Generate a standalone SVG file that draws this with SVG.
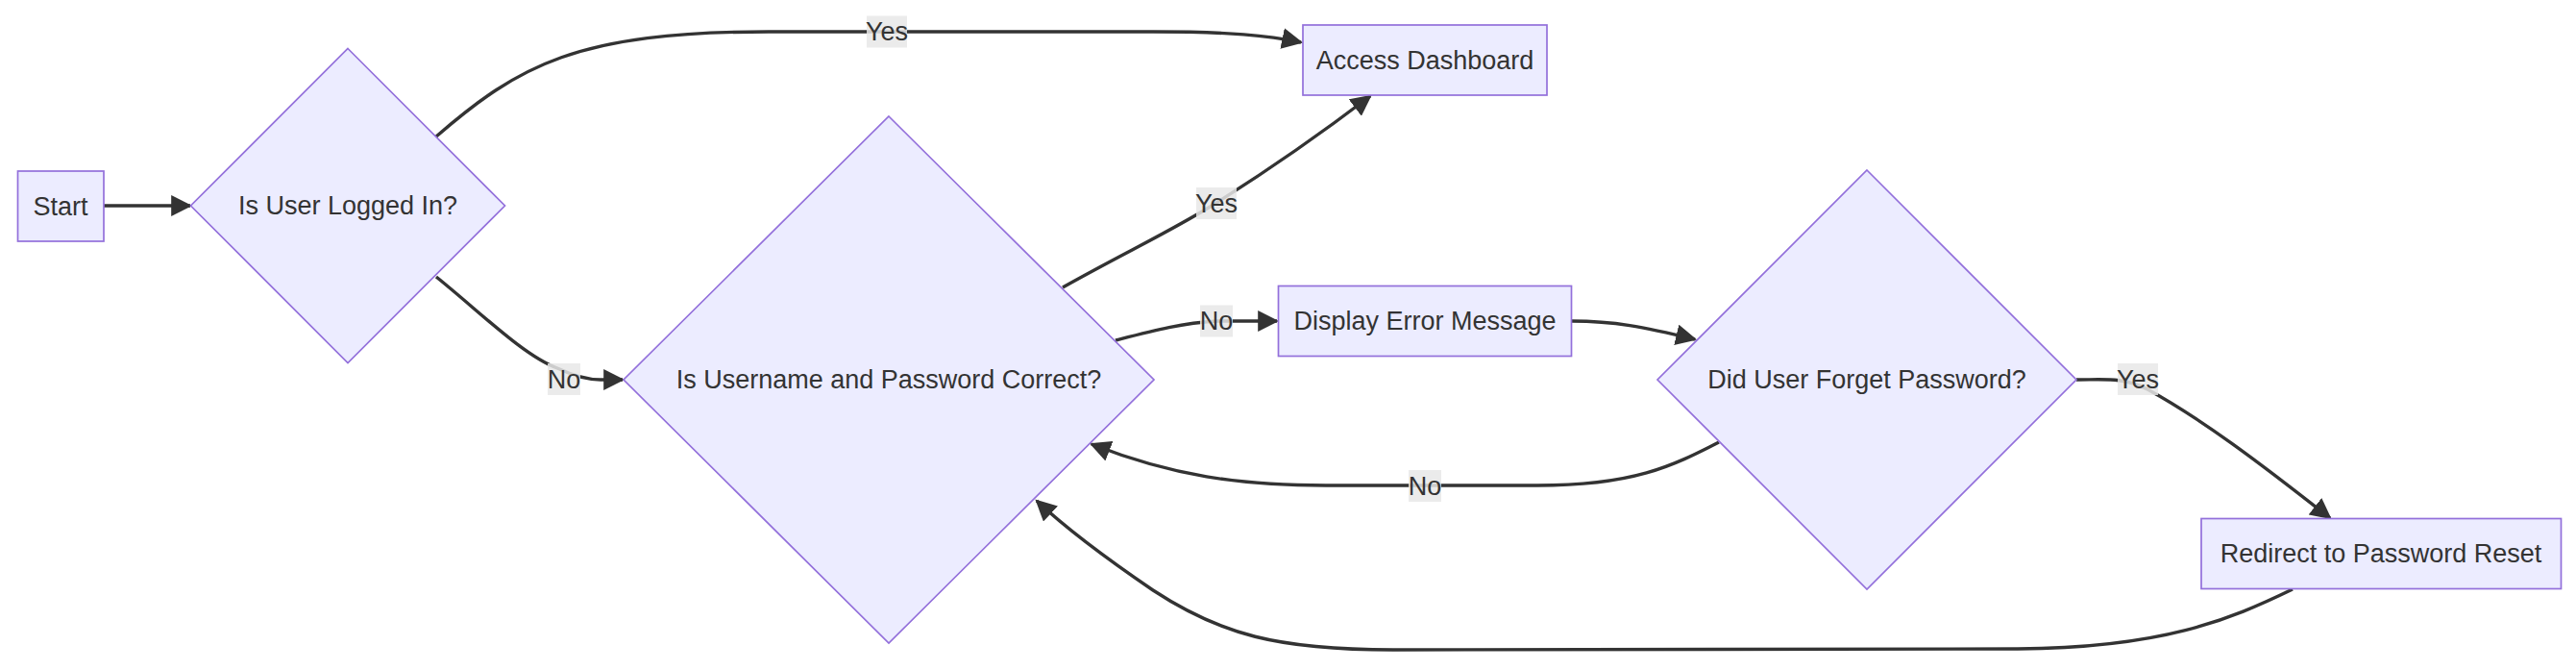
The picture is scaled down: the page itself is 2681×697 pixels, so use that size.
<svg xmlns="http://www.w3.org/2000/svg" width="2681" height="697" viewBox="0 0 2681 697">
<style>
.node{fill:#ECECFF;stroke:#9370DB;stroke-width:1.7}
.lbl{font-family:"Liberation Sans",Arial,sans-serif;font-size:27px;fill:#333333;text-anchor:middle;dominant-baseline:central}
.edge{fill:none;stroke:#333333;stroke-width:3.4}
.ebg{fill:#e8e8e8;opacity:0.85}
</style>
<defs>
<marker id="arr" markerUnits="userSpaceOnUse" markerWidth="22" markerHeight="22" viewBox="0 0 10 10" refX="9" refY="5" orient="auto">
<path d="M0,0 L10,5 L0,10 z" fill="#333333"/>
</marker>
</defs>
<rect width="2681" height="697" fill="#ffffff"/>
<g id="connectors">
<path class="edge" marker-end="url(#arr)" d="M108,214 L198,214"/>
<path class="edge" marker-end="url(#arr)" d="M454,142 C540,68 600,33 800,33 L1200,33 C1280,33 1320,37 1354,44"/>
<path class="edge" marker-end="url(#arr)" d="M454,288 C500,325 545,370 580,383 C595,390 610,395 625,395 L648,395"/>
<path class="edge" marker-end="url(#arr)" d="M1106,299 C1170,263 1220,240 1266,211 C1320,177 1380,135 1426,100"/>
<path class="edge" marker-end="url(#arr)" d="M1161,354 C1200,344 1230,336 1266,334 L1329,334"/>
<path class="edge" marker-end="url(#arr)" d="M1636,334 C1680,334 1710,340 1764,353"/>
<path class="edge" marker-end="url(#arr)" d="M1789,460 C1740,485 1700,505 1600,505 L1380,505 C1290,505 1220,495 1136,462"/>
<path class="edge" marker-end="url(#arr)" d="M2161,395 C2190,395 2210,392 2235,405 C2290,435 2350,480 2425,539"/>
<path class="edge" marker-end="url(#arr)" d="M2386,613 C2320,645 2250,674 2100,675 L1450,676 C1330,676 1270,660 1200,614 C1150,580 1110,550 1079,521"/>
<g id="edge-labels">
<rect class="ebg" x="902" y="16.5" width="42" height="33"/><text class="lbl" x="923" y="33">Yes</text>
<rect class="ebg" x="570" y="378" width="34" height="33"/><text class="lbl" x="587" y="394.5">No</text>
<rect class="ebg" x="1245" y="195" width="42" height="33"/><text class="lbl" x="1266" y="211.5">Yes</text>
<rect class="ebg" x="1249" y="317.5" width="34" height="33"/><text class="lbl" x="1266" y="334">No</text>
<rect class="ebg" x="1466" y="489" width="34" height="33"/><text class="lbl" x="1483" y="505.5">No</text>
<rect class="ebg" x="2204" y="378" width="42" height="33"/><text class="lbl" x="2225" y="394.5">Yes</text>
</g>
</g>
<g id="start"><rect class="node" x="18.5" y="178" width="89.5" height="73"/><text class="lbl" x="63" y="214.5">Start</text></g>
<g id="logged-in"><polygon class="node" points="362,50.5 525.5,214 362,377.5 198.5,214"/><text class="lbl" x="362" y="214">Is User Logged In?</text></g>
<g id="credentials"><polygon class="node" points="925,121 1201,395 925,669 649,395"/><text class="lbl" x="925" y="395">Is Username and Password Correct?</text></g>
<g id="dashboard"><rect class="node" x="1356" y="26" width="254" height="73"/><text class="lbl" x="1483" y="62.5">Access Dashboard</text></g>
<g id="error"><rect class="node" x="1330.5" y="297.5" width="305" height="73"/><text class="lbl" x="1483" y="334">Display Error Message</text></g>
<g id="forgot"><polygon class="node" points="1943,177 2161,395 1943,613 1725,395"/><text class="lbl" x="1943" y="395">Did User Forget Password?</text></g>
<g id="reset"><rect class="node" x="2291" y="539.5" width="374.5" height="73"/><text class="lbl" x="2478" y="576">Redirect to Password Reset</text></g>
</svg>
